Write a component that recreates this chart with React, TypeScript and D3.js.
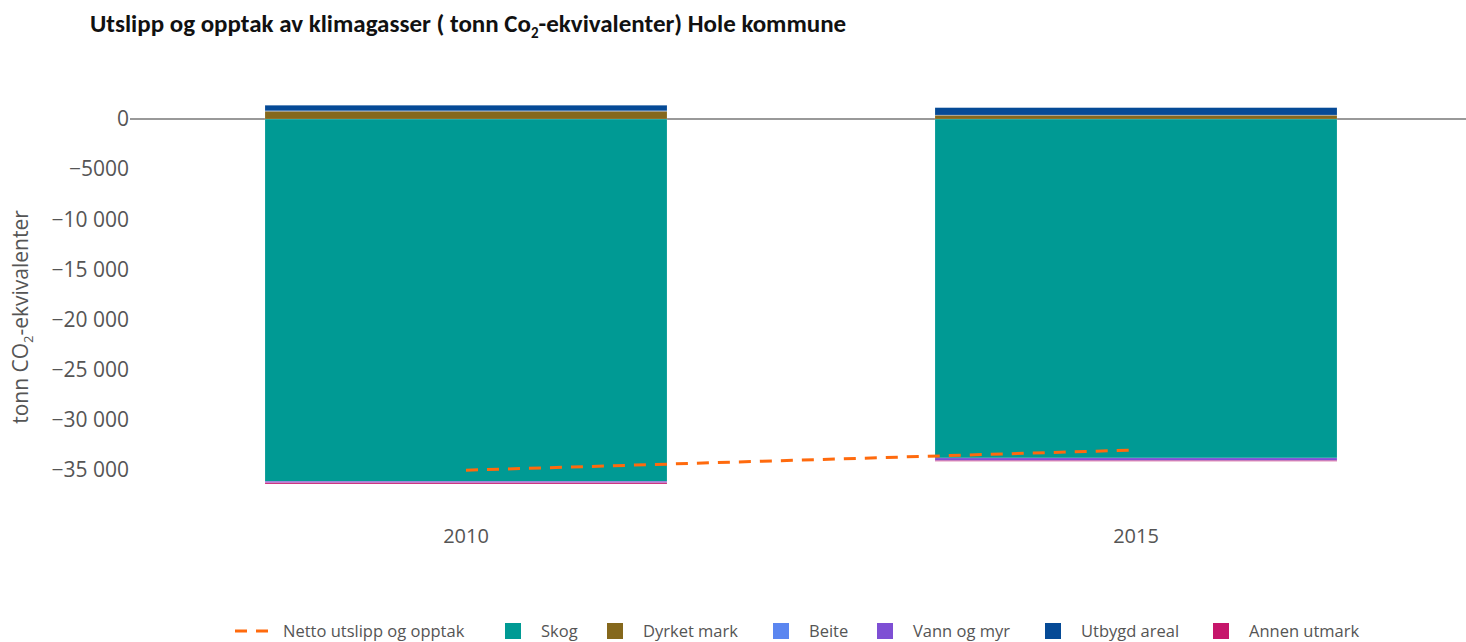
import React, { useEffect, useRef } from "react";
import * as d3 from "d3";

const years = ["2010", "2015"];
const seriesNames = ["Skog", "Dyrket mark", "Beite", "Vann og myr", "Utbygd areal", "Annen utmark"];
const seriesColors = ["#009a94", "#85681c", "#5b86f0", "#7e4fd4", "#054a96", "#c6166b"];
const skog = [-36120, -33800];
const dyrketMark = [780, 380];
const beite = [40, 20];
const vannOgMyr = [-150, -260];
const utbygdAreal = [550, 730];
const annenUtmark = [-120, -70];
const yTicks = [0, -5000, -10000, -15000, -20000, -25000, -30000, -35000];

const W = 1466,
  H = 642;

// thousands separator only from five digits, like the original
const fmt = (v: number) => {
  const a = Math.abs(v);
  const s = a >= 10000 ? d3.format(",")(a).replace(/,/g, " ") : String(a);
  return v < 0 ? "\u2212" + s : s;
};

export default function App() {
  const svgRef = useRef<SVGSVGElement>(null);

  useEffect(() => {
    document.body.style.margin = "0";
    document.body.style.overflow = "hidden";

    const svg = d3.select(svgRef.current);
    svg.selectAll("*").remove();

    const values = [skog, dyrketMark, beite, vannOgMyr, utbygdAreal, annenUtmark];
    const netto = years.map((_, i) => d3.sum(values, (s) => s[i]));

    const x = d3.scaleBand().domain(years).range([131, 1471]).paddingInner(0.4).paddingOuter(0.2);
    const y = d3.scaleLinear().domain([-35000, 0]).range([470, 119]);
    const font = "'Open Sans', sans-serif";
    const grey = "#555";

    // title
    const title = svg
      .append("text")
      .attr("x", 90)
      .attr("y", 32)
      .attr("font-family", "Carlito, Lato, sans-serif")
      .attr("font-weight", "bold")
      .attr("font-size", 25)
      .attr("fill", "#111");
    title.append("tspan").text("Utslipp og opptak av klimagasser ( tonn Co");
    title.append("tspan").attr("font-size", 15).attr("dy", 6).text("2");
    title.append("tspan").attr("dy", -6).text("-ekvivalenter) Hole kommune");

    // zero line
    svg
      .append("line")
      .attr("x1", 130)
      .attr("x2", W)
      .attr("y1", y(0))
      .attr("y2", y(0))
      .attr("stroke", "#999")
      .attr("stroke-width", 2);

    // y ticks
    svg
      .append("g")
      .selectAll("text")
      .data(yTicks)
      .join("text")
      .attr("x", 129)
      .attr("y", (d) => y(d))
      .attr("dy", "0.35em")
      .attr("text-anchor", "end")
      .attr("font-family", font)
      .attr("font-size", 21)
      .attr("fill", grey)
      .text(fmt);

    // y title
    const yt = svg
      .append("text")
      .attr("transform", `translate(28, 317) rotate(-90)`)
      .attr("text-anchor", "middle")
      .attr("font-family", font)
      .attr("font-size", 21)
      .attr("fill", grey);
    yt.append("tspan").text("tonn CO");
    yt.append("tspan").attr("font-size", 13).attr("dy", 5).text("2");
    yt.append("tspan").attr("dy", -5).text("-ekvivalenter");

    // stacked bars (relative)
    const bars = svg.append("g");
    years.forEach((yr, i) => {
      let pos = 0,
        neg = 0;
      values.forEach((s, k) => {
        const v = s[i];
        let y0, y1;
        if (v >= 0) {
          y0 = pos;
          y1 = pos + v;
          pos = y1;
        } else {
          y0 = neg;
          y1 = neg + v;
          neg = y1;
        }
        bars
          .append("rect")
          .attr("x", x(yr)!)
          .attr("width", x.bandwidth())
          .attr("y", y(Math.max(y0, y1)))
          .attr("height", Math.abs(y(y0) - y(y1)))
          .attr("fill", seriesColors[k])
          .attr("stroke", "#fff")
          .attr("stroke-opacity", 0.3)
          .attr("stroke-width", 0.5);
      });
    });

    // x labels
    svg
      .append("g")
      .selectAll("text")
      .data(years)
      .join("text")
      .attr("x", (d) => x(d)! + x.bandwidth() / 2)
      .attr("y", 543)
      .attr("text-anchor", "middle")
      .attr("font-family", font)
      .attr("font-size", 20)
      .attr("fill", grey)
      .text((d) => d);

    // net line
    const line = d3
      .line<number>()
      .x((_, i) => x(years[i])! + x.bandwidth() / 2)
      .y((d) => y(d));
    svg
      .append("path")
      .attr("d", line(netto))
      .attr("fill", "none")
      .attr("stroke", "#ff6a0d")
      .attr("stroke-width", 3)
      .attr("stroke-dasharray", "12,9");

    // legend
    const ly = 631;
    const lg = svg.append("g").attr("font-family", font).attr("font-size", 16.5).attr("fill", grey);
    lg.append("line")
      .attr("x1", 235)
      .attr("x2", 273)
      .attr("y1", ly)
      .attr("y2", ly)
      .attr("stroke", "#ff6a0d")
      .attr("stroke-width", 3)
      .attr("stroke-dasharray", "12,9");
    lg.append("text").attr("x", 283).attr("y", ly).attr("dy", "0.35em").text("Netto utslipp og opptak");
    const squareX = [505, 607, 773, 877, 1045, 1213];
    seriesNames.forEach((n, k) => {
      lg.append("rect")
        .attr("x", squareX[k])
        .attr("y", ly - 8)
        .attr("width", 16)
        .attr("height", 16)
        .attr("fill", seriesColors[k]);
      lg.append("text")
        .attr("x", squareX[k] + 36)
        .attr("y", ly)
        .attr("dy", "0.35em")
        .text(n);
    });
  }, []);

  return (
    <div>
      <svg ref={svgRef} width={W} height={H} style={{ display: "block", background: "#fff" }} />
    </div>
  );
}
